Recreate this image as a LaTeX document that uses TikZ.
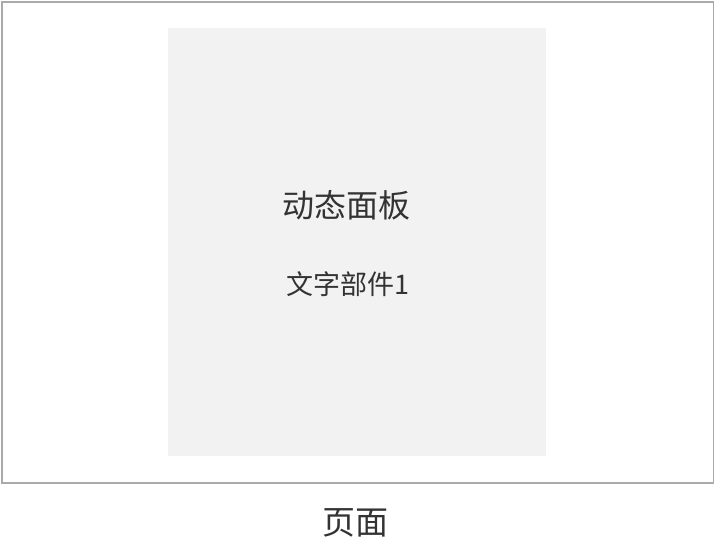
\documentclass[tikz,border=0pt]{standalone}
\usepackage{fontspec}
\newfontfamily\cjk{Noto Sans CJK SC}
\definecolor{frame}{HTML}{AAAAAA}
\definecolor{panel}{HTML}{F2F2F2}
\definecolor{txt}{HTML}{333333}
\tikzset{
  lbl/.style={inner sep=0pt, text=txt, font=\cjk},
}
\begin{document}
\begin{tikzpicture}[x=1pt,y=-1pt]
\useasboundingbox (0,0) rectangle (714,546);
\node[draw=frame, line width=2pt, minimum width=712pt, minimum height=481pt, inner sep=0pt, anchor=north west] (page) at (1,1) {};
\node[fill=panel, minimum width=378pt, minimum height=428pt, inner sep=0pt, anchor=north west] (panel) at (168,28) {};
\node[lbl, font=\cjk\fontsize{32}{32}\selectfont] (title) at (346,205) {动态面板};
\node[lbl, font=\cjk\fontsize{27}{27}\selectfont] (widget) at (348,284) {文字部件1};
\node[lbl, font=\cjk\fontsize{33}{33}\selectfont] (pagelabel) at (355,523) {页面};
\end{tikzpicture}
\end{document}
